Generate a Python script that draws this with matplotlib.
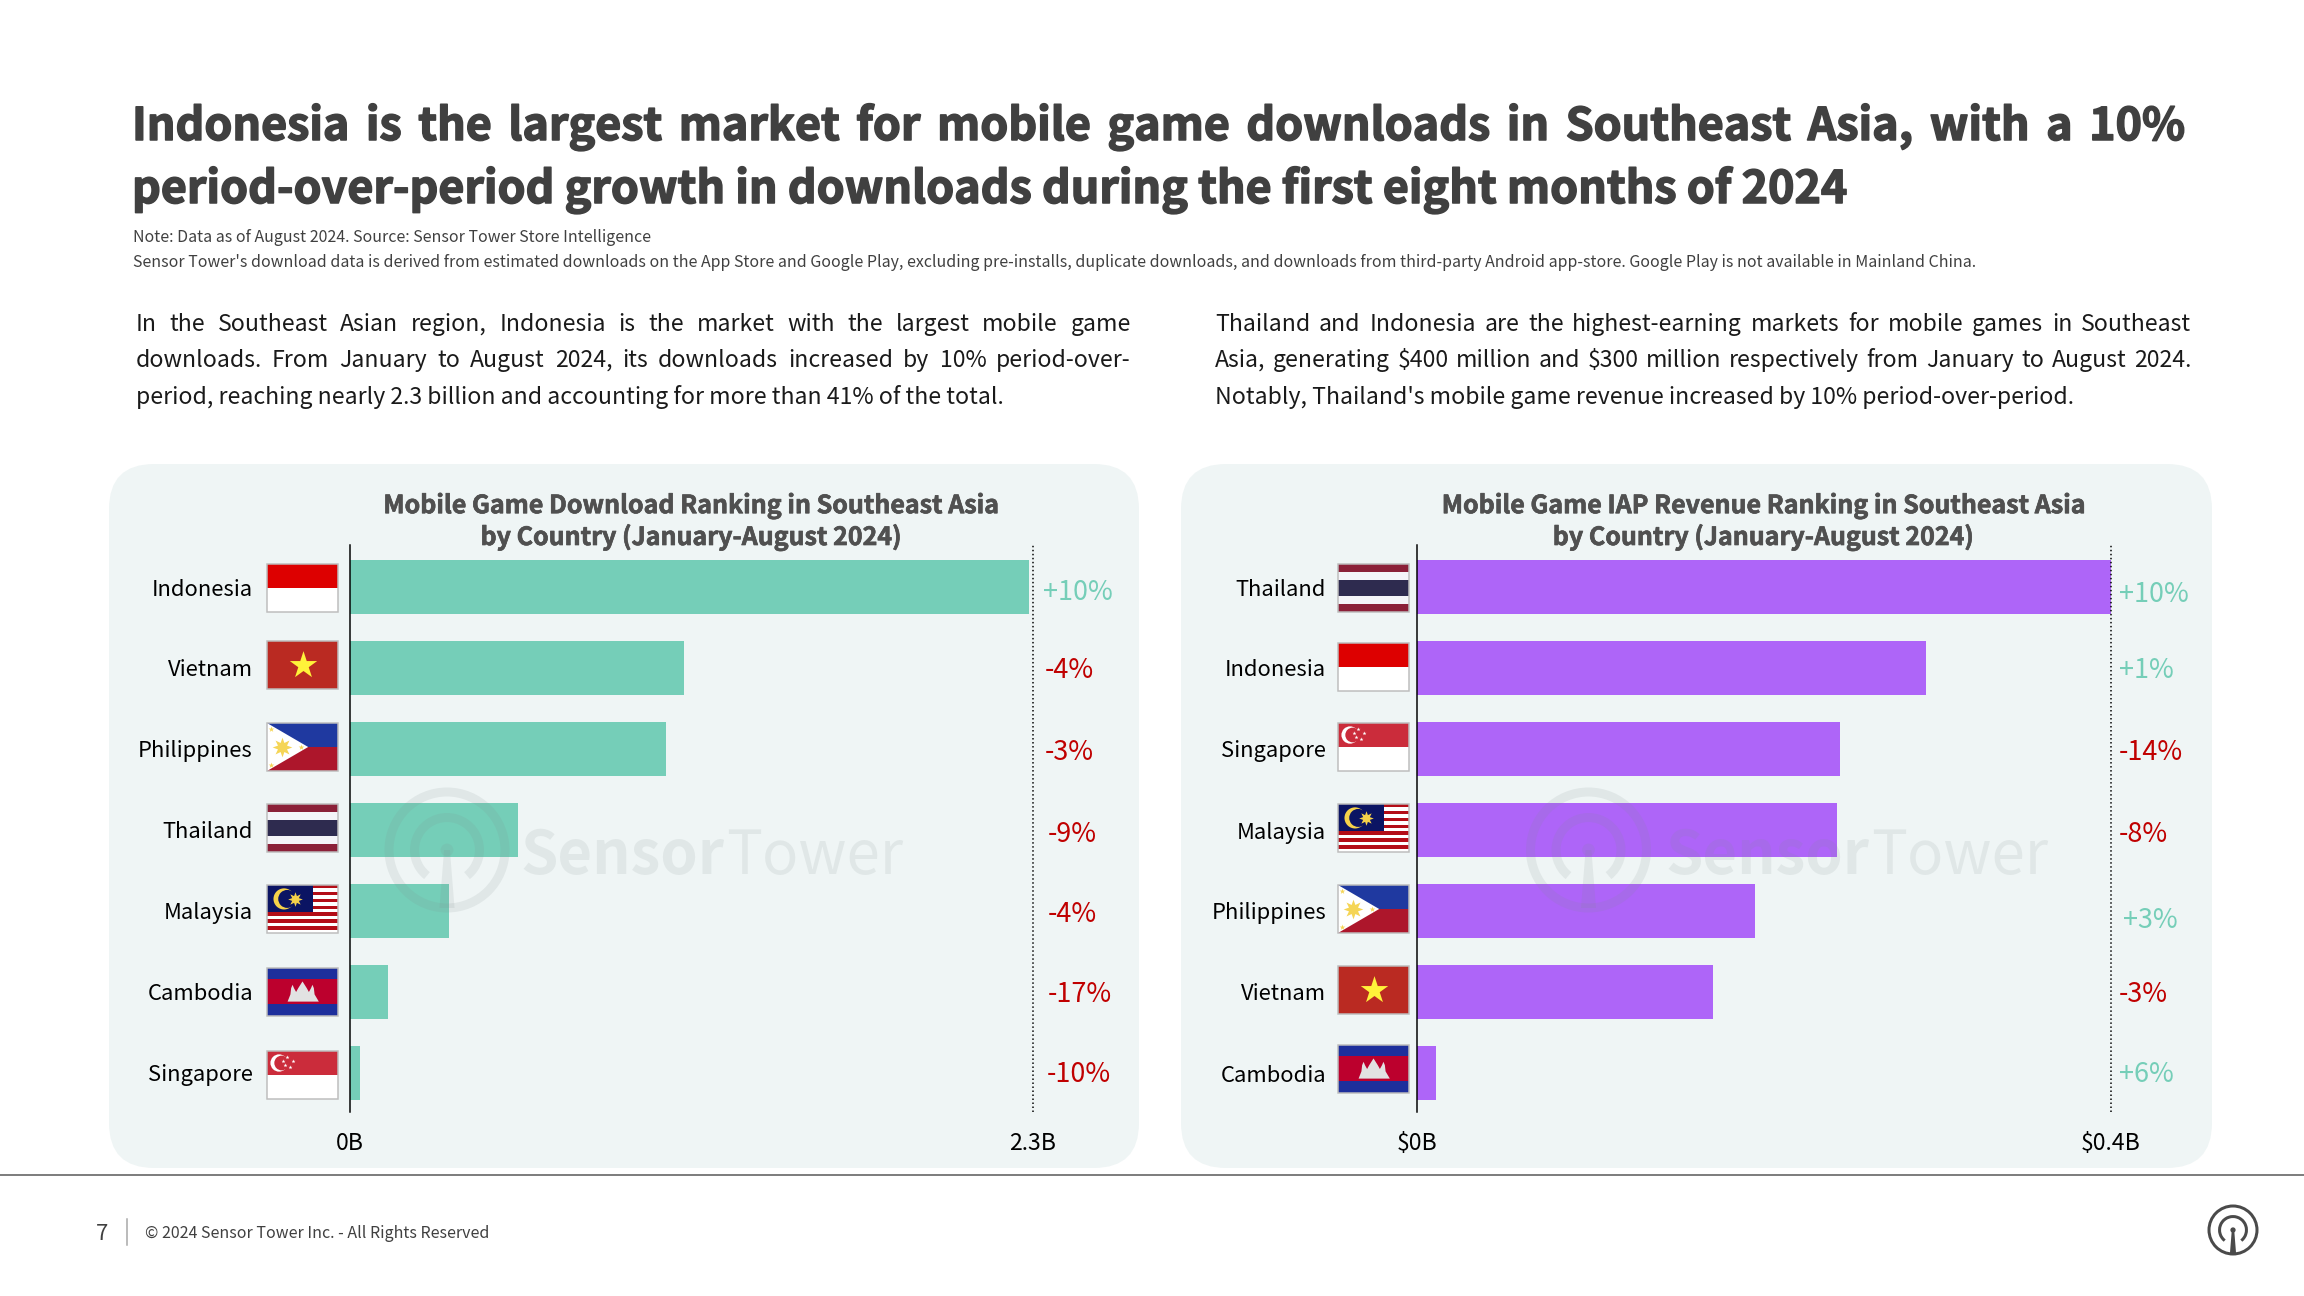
"""Sensor Tower slide: mobile game downloads and IAP revenue in Southeast Asia."""

import matplotlib

matplotlib.use("Agg")
import matplotlib.patheffects as pe
import matplotlib.pyplot as plt
from matplotlib.patches import Arc, Circle, FancyBboxPatch, Polygon, Rectangle

plt.rcParams["font.family"] = ["Noto Sans CJK SC", "DejaVu Sans"]

# data
download_countries = ["Indonesia", "Vietnam", "Philippines", "Thailand", "Malaysia", "Cambodia", "Singapore"]
download_values = [2.285, 1.125, 1.064, 0.566, 0.333, 0.128, 0.034]
download_changes = [10, -4, -3, -9, -4, -17, -10]
revenue_countries = ["Thailand", "Indonesia", "Singapore", "Malaysia", "Philippines", "Vietnam", "Cambodia"]
revenue_values = [0.4, 0.2935, 0.244, 0.242, 0.195, 0.171, 0.011]
revenue_changes = [10, 1, -14, -8, 3, -3, 6]

download_ticks = [0, 2.3]
download_tick_labels = ["0B", "2.3B"]
revenue_ticks = [0, 0.4]
revenue_tick_labels = ["$0B", "$0.4B"]

TITLE_LINE_1 = "Indonesia is the largest market for mobile game downloads in Southeast Asia, with a 10%"
TITLE_LINE_2 = "period-over-period growth in downloads during the first eight months of 2024"
NOTE_1 = "Note: Data as of August 2024. Source: Sensor Tower Store Intelligence"
NOTE_2 = ("Sensor Tower's download data is derived from estimated downloads on the App Store and Google Play, "
          "excluding pre-installs, duplicate downloads, and downloads from third-party Android app-store. "
          "Google Play is not available in Mainland China.")
LEFT_BODY = [
    "In the Southeast Asian region, Indonesia is the market with the largest mobile game",
    "downloads. From January to August 2024, its downloads increased by 10% period-over-",
    "period, reaching nearly 2.3 billion and accounting for more than 41% of the total.",
]
RIGHT_BODY = [
    "Thailand and Indonesia are the highest-earning markets for mobile games in Southeast",
    "Asia, generating $400 million and $300 million respectively from January to August 2024.",
    "Notably, Thailand's mobile game revenue increased by 10% period-over-period.",
]

# styles
W, H = 2304, 1296
PX = 0.72  # points per pixel at dpi 100
GREEN = "#75CEB8"
PURPLE = "#AE65F8"
PANEL = "#EFF5F5"
RED = "#C00000"
DARK = "#404040"
WATERMARK = "#7F8C8C"

# label nudges in pixels, as placed on the slide
download_nudge = [(10, 6), (12, 2), (12, 3), (15, 4), (15, 3), (15, 2), (14, 1)]
revenue_nudge = [(8, 7), (8, 3), (8, 3), (8, 5), (12, 9), (8, 2), (8, 1)]
download_flag_tops = [564, 641, 723, 804, 885, 968, 1051]
revenue_flag_tops = [564, 643, 723, 804, 885, 966, 1045]

fig = plt.figure(figsize=(W / 100, H / 100), dpi=100, facecolor="white")
page = fig.add_axes([0, 0, 1, 1], zorder=0)
page.set_xlim(0, W)
page.set_ylim(H, 0)
page.axis("off")
overlay = fig.add_axes([0, 0, 1, 1], zorder=5)
overlay.set_xlim(0, W)
overlay.set_ylim(H, 0)
overlay.axis("off")
overlay.patch.set_alpha(0)


def text_width(artist):
    return artist.get_window_extent(fig.canvas.get_renderer()).width


def justified(x0, x1, y, line, **kw):
    """Place a line word by word so it spans x0..x1."""
    words = line.split(" ")
    artists = [page.text(x0, y, w, va="baseline", ha="left", **kw) for w in words]
    widths = [text_width(a) for a in artists]
    gap = (x1 - x0 - sum(widths)) / (len(words) - 1)
    x = x0
    for artist, width in zip(artists, widths):
        artist.set_x(x)
        x += width + gap


def draw_logo(ax, cx, cy, r, color, lw, alpha=1.0):
    ax.add_patch(Circle((cx, cy), r, fill=False, ec=color, lw=lw * PX, alpha=alpha))
    ax.add_patch(Arc((cx, cy), r * 1.12, r * 1.12, theta1=128, theta2=412, ec=color, lw=lw * PX, alpha=alpha))
    stem = [(cx - r * 0.05, cy), (cx + r * 0.05, cy), (cx + r * 0.13, cy + r), (cx - r * 0.13, cy + r)]
    ax.add_patch(Polygon(stem, fc=color, ec="none", alpha=alpha))
    ax.add_patch(Circle((cx, cy), r * 0.11, fc=color, ec="none", alpha=alpha))


def draw_watermark(cx, cy, x_text, baseline):
    draw_logo(overlay, cx, cy, 58, WATERMARK, 9, alpha=0.13)
    bold = overlay.text(x_text, baseline, "Sensor", fontsize=60 * PX, fontweight="bold",
                        color=WATERMARK, alpha=0.13, va="baseline")
    overlay.text(x_text + text_width(bold) + 2, baseline, "Tower", fontsize=60 * PX,
                 color=WATERMARK, alpha=0.13, va="baseline")


def rect(x, y, w, h, color):
    page.add_patch(Rectangle((x, y), w, h, fc=color, ec="none", zorder=3))


def star(cx, cy, size, color):
    page.scatter([cx], [cy], s=size, marker="*", c=color, linewidths=0, zorder=4)


def sun(cx, cy, size, color):
    page.scatter([cx], [cy], s=size, marker=(8, 1, 0), c=color, linewidths=0, zorder=4)


def crescent(cx, cy, r, color, bg):
    page.add_patch(Circle((cx, cy), r, fc=color, ec="none", zorder=4))
    page.add_patch(Circle((cx + r * 0.3, cy), r * 0.85, fc=bg, ec="none", zorder=4))


def flag_indonesia(x, y, w, h):
    rect(x, y, w, h / 2, "#DD0000")
    rect(x, y + h / 2, w, h / 2, "white")


def flag_vietnam(x, y, w, h):
    rect(x, y, w, h, "#BA2A22")
    star(x + w / 2, y + h / 2, 430, "#FFF23A")


def flag_philippines(x, y, w, h):
    rect(x, y, w, h / 2, "#1F39A0")
    rect(x, y + h / 2, w, h / 2, "#AD162B")
    page.add_patch(Polygon([(x, y), (x + w * 0.58, y + h / 2), (x, y + h)], fc="white", ec="none", zorder=4))
    sun(x + w * 0.21, y + h / 2, 200, "#F5D556")
    for sx, sy in [(0.05, 0.13), (0.05, 0.87), (0.48, 0.5)]:
        star(x + w * sx, y + h * sy, 18, "#F5D556")


def flag_thailand(x, y, w, h):
    rect(x, y, w, h, "#F4F4F8")
    rect(x, y, w, h * 0.16, "#8B2038")
    rect(x, y + h * 0.84, w, h * 0.16, "#8B2038")
    rect(x, y + h * 0.33, w, h * 0.34, "#2E2B4F")


def flag_malaysia(x, y, w, h):
    rect(x, y, w, h, "white")
    for i in range(0, 14, 2):
        rect(x, y + h * i / 14, w, h / 14, "#B30D17")
    rect(x, y, w * 0.65, h * 8 / 14, "#0B1463")
    crescent(x + w * 0.24, y + h * 0.29, h * 0.22, "#F6D24A", "#0B1463")
    sun(x + w * 0.4, y + h * 0.29, 110, "#F6D24A")


def flag_cambodia(x, y, w, h):
    rect(x, y, w, h, "#1D2F9C")
    rect(x, y + h * 0.23, w, h * 0.52, "#BC002D")
    temple = [(0.29, 0.7), (0.33, 0.55), (0.34, 0.42), (0.36, 0.35), (0.38, 0.42), (0.41, 0.5), (0.44, 0.42),
              (0.5, 0.28), (0.56, 0.42), (0.59, 0.5), (0.62, 0.42), (0.64, 0.35), (0.66, 0.42), (0.67, 0.55), (0.73, 0.7)]
    page.add_patch(Polygon([(x + w * a, y + h * b) for a, b in temple], fc="#E2E2E2", ec="none", zorder=4))


def flag_singapore(x, y, w, h):
    rect(x, y, w, h / 2, "#CB2C3B")
    rect(x, y + h / 2, w, h / 2, "white")
    crescent(x + w * 0.17, y + h * 0.25, h * 0.18, "white", "#CB2C3B")
    for sx, sy in [(0.28, 0.12), (0.36, 0.2), (0.25, 0.3), (0.33, 0.33), (0.22, 0.2)]:
        star(x + w * sx, y + h * sy, 9, "white")


FLAGS = {
    "Indonesia": flag_indonesia,
    "Vietnam": flag_vietnam,
    "Philippines": flag_philippines,
    "Thailand": flag_thailand,
    "Malaysia": flag_malaysia,
    "Cambodia": flag_cambodia,
    "Singapore": flag_singapore,
}


def draw_flag(name, x, y, w=71, h=48):
    FLAGS[name](x, y, w, h)
    page.add_patch(Rectangle((x, y), w, h, fill=False, ec="#BDBDBD", lw=1.5 * PX, zorder=5))


def draw_panel(x0, x1, y0=464, y1=1168, r=45):
    page.add_patch(FancyBboxPatch((x0 + r, y0 + r), x1 - x0 - 2 * r, y1 - y0 - 2 * r,
                                  boxstyle=f"round,pad={r},rounding_size={r}", fc=PANEL, ec="none"))


def draw_chart(x0, x1, countries, values, changes, ticks, tick_labels, color, title, nudge, xmax, label_pad):
    top, bottom = 545, 1112
    ax = fig.add_axes([x0 / W, 1 - bottom / H, (x1 - x0) / W, (bottom - top) / H], zorder=2)
    ax.patch.set_alpha(0)
    rows = list(range(len(countries)))
    ax.barh(rows, values, height=54 / 81, color=color)
    ax.set_xlim(0, xmax)
    ax.set_ylim((1112 - 587) / 81, (545 - 587) / 81)
    ax.set_yticks(rows, countries)
    ax.set_xticks(ticks, tick_labels)
    ax.tick_params(axis="y", length=0, pad=label_pad * PX, labelsize=22 * PX, labelcolor="black")
    ax.tick_params(axis="x", length=0, pad=20 * PX, labelsize=23 * PX, labelcolor="black")
    for side in ("top", "bottom"):
        ax.spines[side].set_visible(False)
    ax.spines["left"].set_linewidth(1.5 * PX)
    ax.spines["right"].set_linewidth(1.5 * PX)
    ax.spines["right"].set_linestyle((0, (1, 1.67)))
    ax.spines["right"].set_capstyle("butt")
    ax.set_title(title, y=1.0, pad=0, fontsize=25 * PX, fontweight="bold", color="#505050", linespacing=1.32,
                 path_effects=[pe.withStroke(linewidth=0.5, foreground="#505050")])
    for row, change, (dx, dy) in zip(rows, changes, nudge):
        ax.annotate(f"{change:+d}%", xy=(1, row), xycoords=ax.get_yaxis_transform(),
                    xytext=(dx * PX, -dy * PX), textcoords="offset points", ha="left", va="center",
                    fontsize=27 * PX, color=GREEN if change > 0 else RED)


# header
title_style = dict(fontsize=44.8 * PX, fontweight="bold", color=DARK,
                   path_effects=[pe.withStroke(linewidth=1.1, foreground=DARK)])
justified(132, 2185, 140, TITLE_LINE_1, **title_style)
page.text(132, 203, TITLE_LINE_2, va="baseline", **title_style)
page.text(133, 242, NOTE_1, fontsize=15.95 * PX, color=DARK, va="baseline")
page.text(133, 267, NOTE_2, fontsize=15.95 * PX, color=DARK, va="baseline")

for i, y in enumerate([331, 367, 404]):
    if i < 2:
        justified(135.5, 1131, y, LEFT_BODY[i], fontsize=23.1 * PX, color="#1A1A1A")
        justified(1215, 2191, y, RIGHT_BODY[i], fontsize=23.1 * PX, color="#1A1A1A")
    else:
        page.text(135.5, y, LEFT_BODY[i], fontsize=23.1 * PX, color="#1A1A1A", va="baseline")
        page.text(1215, y, RIGHT_BODY[i], fontsize=23.1 * PX, color="#1A1A1A", va="baseline")

# panels
draw_panel(109, 1139)
draw_panel(1181, 2212)

draw_chart(350, 1033, download_countries, download_values, download_changes, download_ticks,
           download_tick_labels, GREEN,
           "Mobile Game Download Ranking in Southeast Asia\nby Country (January-August 2024)",
           download_nudge, 2.3, 97)
draw_chart(1417, 2110.5, revenue_countries, revenue_values, revenue_changes, revenue_ticks,
           revenue_tick_labels, PURPLE,
           "Mobile Game IAP Revenue Ranking in Southeast Asia\nby Country (January-August 2024)",
           revenue_nudge, 0.4, 91)

for name, top in zip(download_countries, download_flag_tops):
    draw_flag(name, 267, top)
for name, top in zip(revenue_countries, revenue_flag_tops):
    draw_flag(name, 1338, top)

draw_watermark(447, 850, 520, 874)
draw_watermark(1588.5, 850, 1665, 874)

# footer
page.plot([0, W], [1175, 1175], color="#7F7F7F", lw=2 * PX)
page.plot([127, 127], [1219, 1245], color="#A6A6A6", lw=1.5 * PX)
page.text(102, 1234, "7", fontsize=22 * PX, color=DARK, ha="center", va="center")
page.text(145, 1233, "\u00a9 2024 Sensor Tower Inc. - All Rights Reserved", fontsize=16 * PX, color=DARK, va="center")
draw_logo(page, 2233, 1230, 24, "#4A4A4A", 3)

fig.savefig("out.png", dpi=100, facecolor="white")
